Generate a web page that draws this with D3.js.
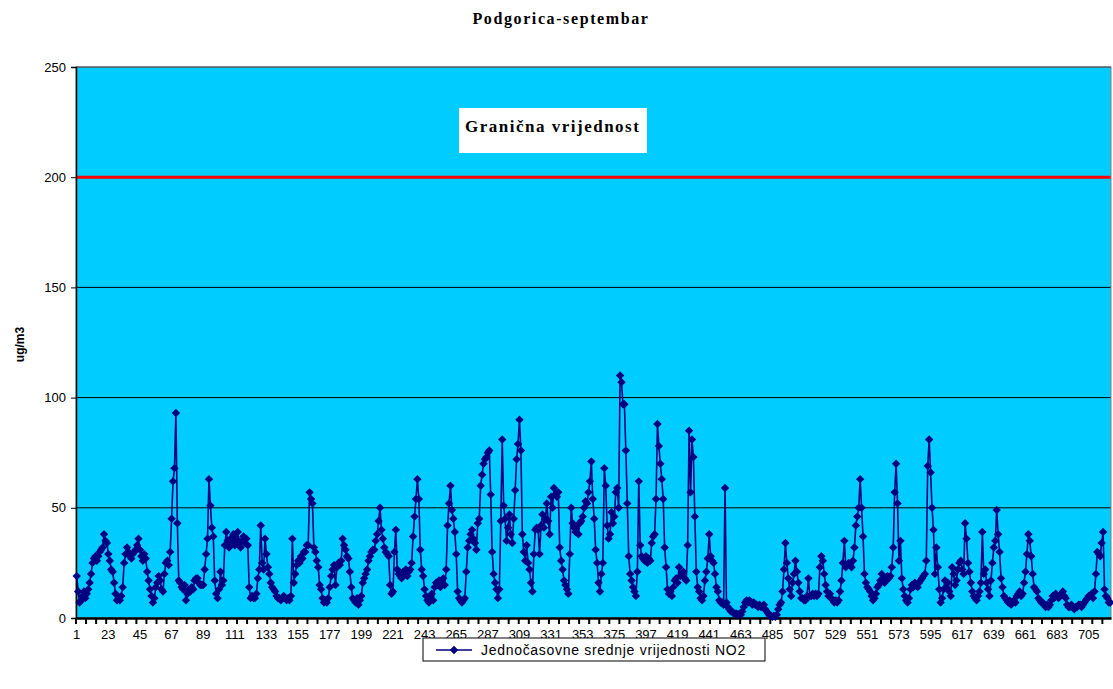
<!DOCTYPE html>
<html><head><meta charset="utf-8">
<script src="https://cdn.jsdelivr.net/npm/d3@7/dist/d3.min.js"></script>
<style>body{margin:0;background:#fff;overflow:hidden}</style>
</head><body><svg id="c" width="1113" height="689"></svg>
<script>
const title = "Podgorica-septembar";
const limitLabel = "Granična vrijednost";
const seriesName = "Jednočasovne srednje vrijednosti NO2";
const yTitle = "ug/m3";
const limitValue = 200;
const yTicks = [0, 50, 100, 150, 200, 250];
const xLabelStep = 22;
const values = [
19,12,7,8,10,12,9,11,13,16,20,25,27,28,26,28,30,31,32,38,35,34,29,26,
22,21,16,11,8,9,8,10,14,25,29,32,30,28,27,29,30,31,33,36,31,28,26,29,
27,21,17,13,10,7,9,14,16,19,17,13,12,20,25,26,24,30,45,62,68,93,43,17,
16,14,13,15,8,11,13,12,14,13,17,18,18,16,15,15,15,22,29,36,63,51,41,37,
17,11,9,13,21,15,17,33,39,35,32,36,34,38,33,36,39,34,32,35,37,34,36,33,
14,9,10,9,9,11,18,22,42,25,22,36,29,23,20,16,14,13,12,10,9,9,8,9,
10,9,8,9,8,10,36,16,20,24,26,25,28,27,30,30,33,33,57,54,52,32,30,26,
23,15,13,9,7,8,7,9,14,19,22,24,15,23,25,24,26,36,33,31,28,27,21,14,
9,8,7,9,6,8,10,16,18,20,22,26,28,30,31,31,35,38,44,50,40,36,32,30,
29,28,15,11,12,30,40,22,20,19,18,21,20,22,19,21,22,25,37,46,54,63,54,31,
22,19,13,10,8,7,9,11,8,14,16,15,17,14,16,18,15,22,42,52,60,49,45,39,
29,12,9,8,7,8,9,21,32,35,38,40,36,34,31,43,45,60,65,70,72,73,75,76,
56,30,20,16,13,9,13,44,81,51,45,35,41,47,38,34,45,58,72,79,90,76,38,30,
26,33,25,22,16,12,29,40,41,40,29,42,47,41,45,52,44,38,55,50,59,56,55,57,
32,26,22,17,15,13,11,29,50,43,41,39,42,38,43,44,46,50,53,52,57,62,71,54,
45,31,25,16,12,20,25,68,60,42,36,38,48,43,46,57,59,50,110,107,97,97,76,52,
28,20,17,14,12,10,21,62,33,28,27,26,28,25,27,26,34,37,38,54,88,78,70,63,
54,32,23,13,11,12,10,14,17,18,16,23,19,20,21,18,17,33,85,57,81,73,46,21,
14,12,9,8,10,17,21,27,38,28,26,25,20,14,12,8,7,7,6,59,7,5,4,3,
3,2,2,2,1.5,2,1.5,3,5,7,8,7,8,7,6,7,6,6,5,6,5,5,6,4,
3,2,1,1,0.5,1,0.5,1.5,4,6,7,12,22,34,25,18,13,10,16,20,26,21,16,12,
9,9,8,8,10,18,10,10,11,10,11,10,11,23,28,26,20,15,12,10,11,9,8,7,
8,7,8,12,17,25,35,23,24,25,24,23,26,32,42,46,50,63,50,37,20,16,14,13,
12,10,8,9,11,14,15,17,20,18,16,17,19,18,19,23,32,57,70,52,26,35,18,13,
10,8,7,9,13,15,14,16,15,14,16,17,18,19,20,26,69,81,66,50,40,20,32,23,
13,7,9,13,17,14,16,12,10,23,20,15,17,22,25,26,22,20,43,36,25,21,16,12,
10,9,8,10,12,16,39,20,22,16,13,10,17,25,32,35,49,38,30,18,14,10,9,8,
7,8,6,7,8,7,10,11,12,10,11,16,21,29,38,35,28,20,14,13,12,9,8,7,
7,6,5,6,5,6,8,10,9,11,10,9,10,11,12,10,9,6,5,5,6,5,4,5,
5,6,6,5,6,7,8,9,10,10,11,9,12,20,30,29,28,34,39,13,10,9,7,7
];
const hours = d3.range(1, values.length + 1);

const svg = d3.select("#c");
const P = {l: 76, r: 1111, t: 67, b: 618};
const x = d3.scaleBand().domain(hours).range([P.l, P.r]);
const y = d3.scaleLinear().domain([0, 250]).range([P.b, P.t]);
const cx = h => x(h) + x.bandwidth() / 2;
const sans = "Liberation Sans, Arial, sans-serif";
const serif = "Liberation Serif, Times New Roman, serif";

svg.append("rect").attr("x", P.l).attr("y", P.t).attr("width", P.r - P.l).attr("height", P.b - P.t)
  .attr("fill", "#00CCFF");

svg.append("g").selectAll("line").data(yTicks.filter(v => v > 0 && v !== limitValue)).join("line")
  .attr("x1", P.l).attr("x2", P.r).attr("y1", d => y(d)).attr("y2", d => y(d))
  .attr("stroke", "#000").attr("stroke-width", 1);

svg.append("line").attr("x1", P.l).attr("x2", P.r).attr("y1", y(limitValue)).attr("y2", y(limitValue))
  .attr("stroke", "#FF0000").attr("stroke-width", 3);

svg.append("rect").attr("x", P.l).attr("y", P.t).attr("width", P.r - P.l).attr("height", P.b - P.t)
  .attr("fill", "none").attr("stroke", "#808080").attr("stroke-width", 1);

const lb = svg.append("g");
lb.append("rect").attr("x", 459).attr("y", 108).attr("width", 188).attr("height", 45).attr("fill", "#fff");
lb.append("text").attr("x", 465).attr("y", 132).text(limitLabel)
  .attr("font-family", serif).attr("font-weight", "bold").attr("font-size", 17).attr("letter-spacing", 1.5);

const yAxis = svg.append("g").attr("transform", `translate(${P.l},0)`)
  .call(d3.axisLeft(y).tickValues(yTicks).tickSize(5).tickPadding(5));
yAxis.select(".domain").attr("stroke", "#000").attr("stroke-width", 1.5);
yAxis.selectAll("text").attr("font-family", sans).attr("font-size", 13).attr("fill", "#000");

const xAxis = svg.append("g").attr("transform", `translate(0,${P.b})`)
  .call(d3.axisBottom(x).tickValues(hours.filter(h => (h - 1) % xLabelStep === 0)).tickSize(0).tickPadding(12));
xAxis.select(".domain").attr("stroke", "#000").attr("stroke-width", 2.5);
xAxis.selectAll("text").attr("font-family", sans).attr("font-size", 13).attr("fill", "#000");
svg.append("g").selectAll("line").data(hours.filter(h => (h - 1) % 7 === 0)).join("line")
  .attr("x1", d => x(d)).attr("x2", d => x(d)).attr("y1", P.b).attr("y2", P.b + 6)
  .attr("stroke", "#000").attr("stroke-width", 2);

svg.append("text").attr("transform", `translate(24,${(P.t + P.b) / 2 + 2}) rotate(-90)`)
  .attr("text-anchor", "middle").text(yTitle)
  .attr("font-family", sans).attr("font-weight", "bold").attr("font-size", 12);

svg.append("text").attr("x", 561).attr("y", 24).attr("text-anchor", "middle").text(title)
  .attr("font-family", serif).attr("font-weight", "bold").attr("font-size", 16).attr("letter-spacing", 1.6);

const line = d3.line().x((d, i) => cx(hours[i])).y(d => y(d));
svg.append("path").datum(values).attr("d", line).attr("fill", "none")
  .attr("stroke", "#000080").attr("stroke-width", 1.6);
const diamond = "M0,-4.2L4.2,0L0,4.2L-4.2,0Z";
svg.append("g").selectAll("path").data(values).join("path")
  .attr("d", diamond).attr("transform", (d, i) => `translate(${cx(hours[i])},${y(d)})`)
  .attr("fill", "#000080");

const lg = svg.append("g");
lg.append("rect").attr("x", 423).attr("y", 638).attr("width", 342).attr("height", 23)
  .attr("fill", "#fff").attr("stroke", "#000").attr("stroke-width", 1);
lg.append("line").attr("x1", 436).attr("x2", 472).attr("y1", 650).attr("y2", 650)
  .attr("stroke", "#000080").attr("stroke-width", 1.5);
lg.append("path").attr("d", diamond).attr("transform", "translate(454,650)").attr("fill", "#000080");
lg.append("text").attr("x", 481).attr("y", 655).text(seriesName)
  .attr("font-family", sans).attr("font-size", 14).attr("letter-spacing", 0.7);
</script></body></html>
